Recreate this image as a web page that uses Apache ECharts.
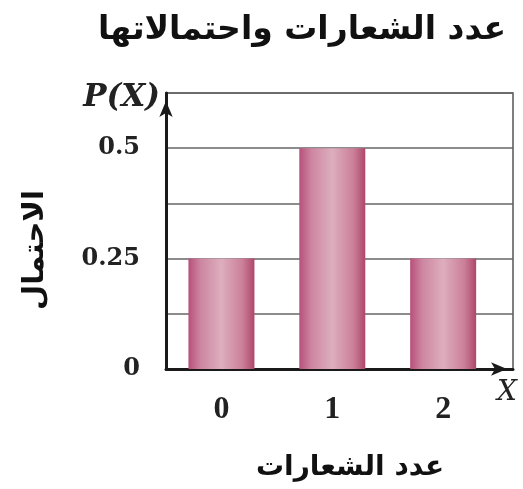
<!DOCTYPE html>
<html>
<head>
<meta charset="utf-8">
<script src="https://cdn.jsdelivr.net/npm/echarts@6/dist/echarts.min.js"></script>
<style>
  html, body { margin: 0; padding: 0; background: #fff; }
  #chart { width: 523px; height: 489px; }
</style>
</head>
<body>
<div id="chart"></div>
<script>
"use strict"

// 数据
let xValues = [0, 1, 2];
let probValues = [0.25, 0.5, 0.25];
let yLabelValues = [0, 0.25, 0.5];
let titleText = "عدد الشعارات واحتمالاتها";
let xNameText = "عدد الشعارات";
let yNameText = "الاحتمال";

showBarChart();

function showBarChart() {
    var myChart = echarts.init(document.getElementById("chart"));
    var serif = "'Liberation Serif', 'DejaVu Serif', serif";
    var wideSerif = "'DejaVu Serif', serif";
    var arabic = "'DejaVu Sans', sans-serif";

    var barColor = new echarts.graphic.LinearGradient(0, 0, 1, 0, [
        { offset: 0, color: "#b7507a" },
        { offset: 0.18, color: "#cd85a0" },
        { offset: 0.5, color: "#ddaebe" },
        { offset: 0.82, color: "#cb7f98" },
        { offset: 1, color: "#ae476b" }
    ]);

    var option = {
        backgroundColor: "#fff",
        animation: false,
        title: {
            text: titleText,
            right: 12,
            top: 9,
            textStyle: {
                fontFamily: arabic,
                fontWeight: "bold",
                fontSize: 33,
                color: "#111"
            }
        },
        grid: {
            left: 166,
            right: 10,
            top: 93,
            bottom: 120,
            show: true,
            borderColor: "#555",
            borderWidth: 1.5
        },
        xAxis: {
            type: "value",
            min: -0.5,
            max: 2.63,
            name: "X",
            nameLocation: "end",
            nameGap: -6,
            nameTextStyle: {
                fontFamily: wideSerif,
                fontStyle: "italic",
                fontSize: 28,
                color: "#222",
                align: "center",
                verticalAlign: "top",
                padding: [10, 0, 0, 0]
            },
            axisLine: {
                lineStyle: { color: "#1a1a1a", width: 3 },
                symbol: ["none", "arrow"],
                symbolSize: [10, 16],
                symbolOffset: [0, -6]
            },
            axisTick: { show: false },
            splitLine: { show: false },
            axisLabel: {
                customValues: xValues,
                margin: 25,
                fontFamily: serif,
                fontWeight: "bold",
                fontSize: 32,
                color: "#222"
            }
        },
        yAxis: {
            type: "value",
            min: 0,
            max: 0.625,
            interval: 0.125,
            name: "P(X)",
            nameLocation: "end",
            nameGap: -5,
            nameTextStyle: {
                fontFamily: wideSerif,
                fontStyle: "italic",
                fontWeight: "bold",
                fontSize: 31,
                color: "#222",
                align: "right",
                verticalAlign: "middle",
                padding: [0, 6, 0, 0]
            },
            axisLine: {
                onZero: false,
                lineStyle: { color: "#1a1a1a", width: 3 },
                symbol: ["none", "arrow"],
                symbolSize: [10, 16],
                symbolOffset: [0, -8]
            },
            axisTick: { show: false },
            splitLine: {
                show: true,
                lineStyle: { color: "#666", width: 1.5 }
            },
            axisLabel: {
                customValues: yLabelValues,
                margin: 26,
                padding: [4, 0, 0, 0],
                fontFamily: wideSerif,
                fontWeight: "bold",
                fontSize: 24,
                color: "#222"
            }
        },
        graphic: [
            {
                type: "text",
                x: 35,
                y: 250,
                rotation: Math.PI / 2,
                style: {
                    text: yNameText,
                    font: "bold 29px " + arabic,
                    fill: "#111",
                    align: "center",
                    verticalAlign: "middle"
                }
            },
            {
                type: "text",
                x: 350,
                y: 468,
                style: {
                    text: xNameText,
                    font: "bold 28px " + arabic,
                    fill: "#111",
                    align: "center",
                    verticalAlign: "middle"
                }
            }
        ],
        series: [{
            type: "bar",
            barWidth: 66,
            data: xValues.map(function (x, i) { return [x, probValues[i]]; }),
            itemStyle: { color: barColor }
        }]
    };

    myChart.setOption(option);
}
</script>
</body>
</html>
